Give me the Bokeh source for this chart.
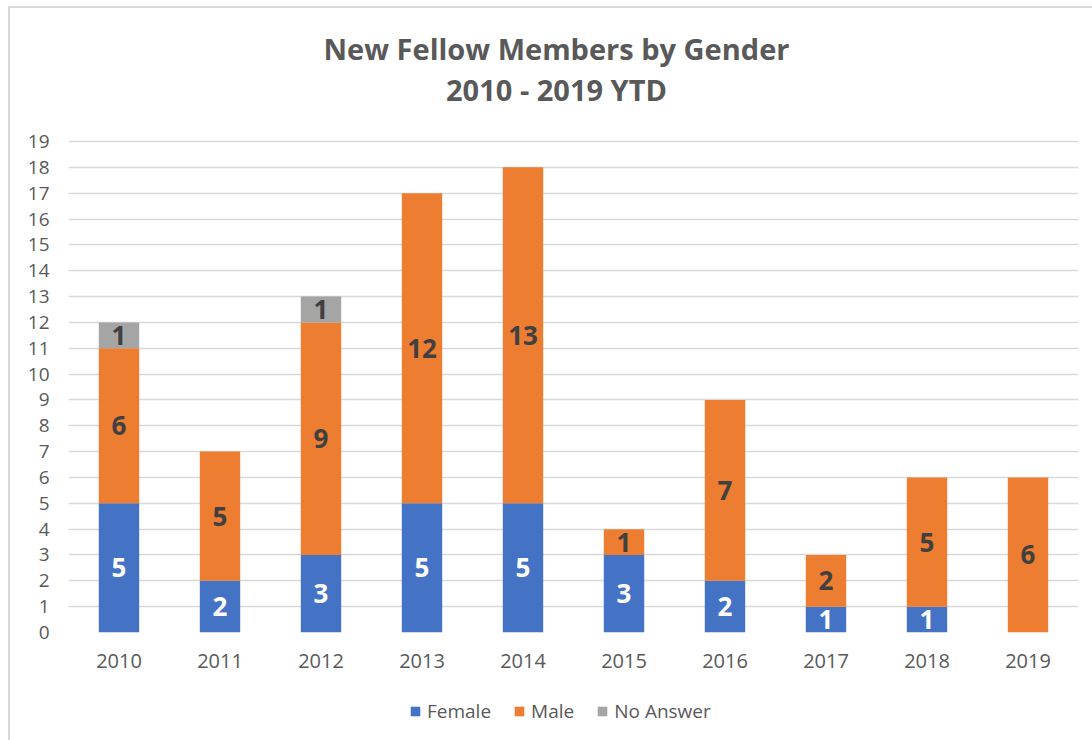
from bokeh.plotting import figure
from bokeh.layouts import column
from bokeh.models import ColumnDataSource, LabelSet, Label, Legend, LegendItem, FactorRange, Range1d
from bokeh.core.properties import value
from bokeh.embed import file_html
from bokeh.resources import INLINE

years = ["2010", "2011", "2012", "2013", "2014", "2015", "2016", "2017", "2018", "2019"]
female = [5, 2, 3, 5, 5, 3, 2, 1, 1, 0]
male = [6, 5, 9, 12, 13, 1, 7, 2, 5, 6]
no_answer = [1, 0, 1, 0, 0, 0, 0, 0, 0, 0]
y_ticks = list(range(0, 20))
title_lines = ["New Fellow Members by Gender", "2010 - 2019 YTD"]
series = ["Female", "Male", "No Answer"]
stack_cols = ["Female", "Male", "NoAnswer"]

colors = {"Female": "#4472C4", "Male": "#ED7D31", "No Answer": "#A5A5A5"}
FONT = "Open Sans"
TXT = "#595959"

src = ColumnDataSource(dict(years=years, Female=female, Male=male, NoAnswer=no_answer))

# frame covers the title area too; gridlines/ticks only at 0..19
p = figure(x_range=FactorRange(*years, range_padding=0), y_range=(0, 24.147),
           width=1082, height=672, output_backend="svg", toolbar_location=None,
           title=None, min_border_left=58, min_border_right=14,
           min_border_top=0, min_border_bottom=48)

renderers = p.vbar_stack(stack_cols, x="years", width=0.4,
                         color=[colors[s] for s in series],
                         line_color=None, source=src)

# data labels
def label_source(base, vals):
    xs, ys, ts = [], [], []
    for yr, b, v in zip(years, base, vals):
        if v > 0:
            xs.append(yr)
            ys.append(b + v / 2)
            ts.append(str(v))
    return ColumnDataSource(dict(x=xs, y=ys, t=ts))

zero = [0] * len(years)
base_m = female
base_n = [f + m for f, m in zip(female, male)]
for base, vals, col in [(zero, female, "white"), (base_m, male, "#404040"), (base_n, no_answer, "#404040")]:
    ls = LabelSet(x="x", y="y", text="t", source=label_source(base, vals),
                  text_align="center", text_baseline="middle", text_color=col,
                  text_font=value(FONT), text_font_size="26px", text_font_style="bold")
    p.add_layout(ls)

# title lines (screen units, relative to the frame)
for txt, yy in zip(title_lines, [584, 543]):
    p.add_layout(Label(x=488, y=yy, x_units="screen", y_units="screen", text=txt,
                       text_align="center", text_baseline="middle", text_font=FONT,
                       text_font_size="29px", text_font_style="bold", text_color=TXT))

# axes
p.yaxis.ticker = y_ticks
p.yaxis.axis_line_color = None
p.yaxis.major_tick_line_color = None
p.yaxis.minor_tick_line_color = None
p.yaxis.major_label_text_font = FONT
p.yaxis.major_label_text_font_size = "19px"
p.yaxis.major_label_text_color = TXT
p.yaxis.major_label_standoff = 13

p.xaxis.axis_line_color = None
p.xaxis.major_tick_line_color = None
p.xaxis.major_label_text_font = FONT
p.xaxis.major_label_text_font_size = "20px"
p.xaxis.major_label_text_color = TXT
p.xaxis.major_label_standoff = 15

p.xgrid.grid_line_color = None
p.ygrid.grid_line_color = "#D9D9D9"
p.ygrid.grid_line_width = 1.5
p.outline_line_color = None

# legend strip below: same stacked series, drawn out of view, used only for the legend swatches
p2 = figure(width=1082, height=60, x_range=p.x_range, y_range=Range1d(100, 101),
            output_backend="svg", toolbar_location=None, min_border=0, title=None)
p2.axis.visible = False
p2.grid.visible = False
p2.outline_line_color = None
swatches = p2.vbar_stack(stack_cols, x="years", width=0.4,
                         color=[colors[s] for s in series], line_color=None, source=src)
legend = Legend(items=[LegendItem(label=s, renderers=[r]) for s, r in zip(series, swatches)],
                orientation="horizontal", location=(341, 16),
                label_text_font=FONT, label_text_font_size="19px", label_text_color=TXT,
                glyph_width=12, glyph_height=12, label_standoff=6, spacing=22,
                border_line_color=None, background_fill_alpha=0, margin=0, padding=0)
p2.add_layout(legend, "center")

layout = column(p, p2, spacing=0)
layout.styles = {"border-left": "2px solid #d9d9d9", "border-top": "2px solid #d9d9d9",
                 "margin-left": "8px", "margin-top": "6px"}

open("out.html", "w").write(file_html(layout, INLINE))
